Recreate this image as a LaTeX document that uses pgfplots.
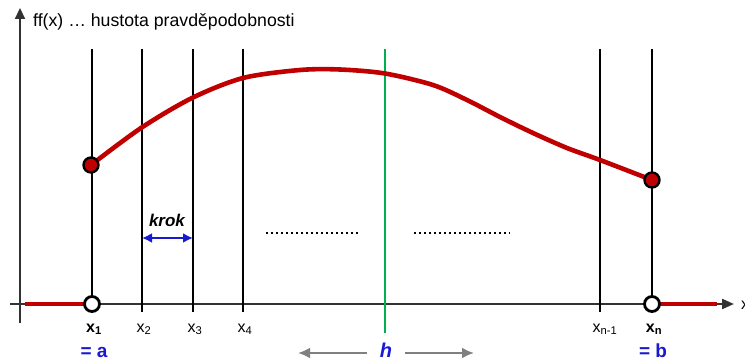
\documentclass[border=0pt]{standalone}
\usepackage{fontspec}
\setmainfont{Liberation Sans}
\usepackage{pgfplots}
\pgfplotsset{compat=1.18}
\usetikzlibrary{arrows.meta}
\definecolor{dred}{RGB}{192,0,0}
\definecolor{dblue}{RGB}{25,25,210}
\definecolor{dgreen}{RGB}{0,176,80}
\definecolor{agray}{RGB}{50,50,50}
\definecolor{lgray}{RGB}{128,128,128}
\begin{document}
\begin{tikzpicture}
\begin{axis}[scale only axis, width=745pt, height=361pt,
  xmin=0, xmax=745, ymin=0, ymax=361, y dir=reverse,
  axis lines=none, clip=false]
% axes
\addplot[agray, line width=2.2pt, -{Triangle[length=11pt,width=10pt]}] coordinates {(20,323) (20,8)};
\addplot[agray, line width=2.2pt, -{Triangle[length=12pt,width=10pt]}] coordinates {(10,304) (734,304)};
% red segments on x axis
\addplot[dred, line width=4pt] coordinates {(25,304) (88,304)};
\addplot[dred, line width=4pt] coordinates {(655,304) (717,304)};
% vertical lines
\addplot[black, line width=2.4pt] coordinates {(92,49) (92,304)};
\addplot[black, line width=2.4pt] coordinates {(142,49) (142,312)};
\addplot[black, line width=2.4pt] coordinates {(193,49) (193,312)};
\addplot[black, line width=2.4pt] coordinates {(243,49) (243,312)};
\addplot[black, line width=2.4pt] coordinates {(600,49) (600,312)};
\addplot[black, line width=2.4pt] coordinates {(652,49) (652,304)};
\addplot[dgreen, line width=2pt] coordinates {(385,49) (385,333)};
% density curve
\addplot[dred, line width=4.6pt, smooth] coordinates {
(91,165) (141,128) (192,98) (243,78) (300,70) (340,69.5) (385,73.5)
(433,85) (467,100) (500,117) (533,133) (567,148) (600,160) (652,180)};
% filled end points
\addplot[only marks, mark=*, mark size=7.5pt, mark options={fill=dred, draw=black, line width=2.4pt}] coordinates {(91,165) (652,180)};
% open circles
\addplot[only marks, mark=*, mark size=7.5pt, mark options={fill=white, draw=black, line width=2.8pt}] coordinates {(92,304) (652,304)};
% krok arrow
\addplot[dblue, line width=2.8pt, {Latex[length=10pt,width=10pt]}-{Latex[length=10pt,width=10pt]}] coordinates {(142,238) (193,238)};
% dotted lines
\addplot[black, line width=2.2pt, dash pattern=on 2pt off 3pt] coordinates {(266,233) (360,233)};
\addplot[black, line width=2.2pt, dash pattern=on 2pt off 3pt] coordinates {(414,233) (510,233)};
% h arrows
\addplot[lgray, line width=2.8pt, -{Latex[length=12pt,width=11pt]}] coordinates {(367,353) (298,353)};
\addplot[lgray, line width=2.8pt, -{Latex[length=12pt,width=11pt]}] coordinates {(405,353) (474,353)};
% texts
\node[anchor=base west, inner sep=0pt, font=\fontsize{17.7}{21}\selectfont] at (axis cs:33,27) {ff(x) … hustota pravděpodobnosti};
\node[anchor=base, inner sep=0pt, font=\fontsize{17}{20}\selectfont\bfseries\itshape] at (axis cs:167,226) {krok};
\node[anchor=base, inner sep=0pt, font=\fontsize{16}{19}\selectfont] at (axis cs:94,332) {\textbf{x}\textsubscript{\textbf{1}}};
\node[anchor=base, inner sep=0pt, font=\fontsize{16}{19}\selectfont] at (axis cs:144,332) {x\textsubscript{2}};
\node[anchor=base, inner sep=0pt, font=\fontsize{16}{19}\selectfont] at (axis cs:195,332) {x\textsubscript{3}};
\node[anchor=base, inner sep=0pt, font=\fontsize{16}{19}\selectfont] at (axis cs:245,332) {x\textsubscript{4}};
\node[anchor=base, inner sep=0pt, font=\fontsize{16}{19}\selectfont] at (axis cs:605,332) {x\textsubscript{n-1}};
\node[anchor=base, inner sep=0pt, font=\fontsize{16}{19}\selectfont] at (axis cs:654,332) {\textbf{x}\textsubscript{\textbf{n}}};
\node[anchor=base west, inner sep=0pt, font=\fontsize{16}{19}\selectfont] at (axis cs:741,309) {x};
\node[anchor=base, inner sep=0pt, font=\fontsize{19}{22}\selectfont\bfseries, text=dblue] at (axis cs:94,357) {= a};
\node[anchor=base, inner sep=0pt, font=\fontsize{19}{22}\selectfont\bfseries, text=dblue] at (axis cs:653,357) {= b};
\node[anchor=base, inner sep=0pt, font=\fontsize{20}{23}\selectfont\bfseries\itshape, text=dblue] at (axis cs:386,357) {h};
\end{axis}
\pgfresetboundingbox
\path[use as bounding box] (0,0) rectangle (745pt,361pt);
\end{tikzpicture}
\end{document}
